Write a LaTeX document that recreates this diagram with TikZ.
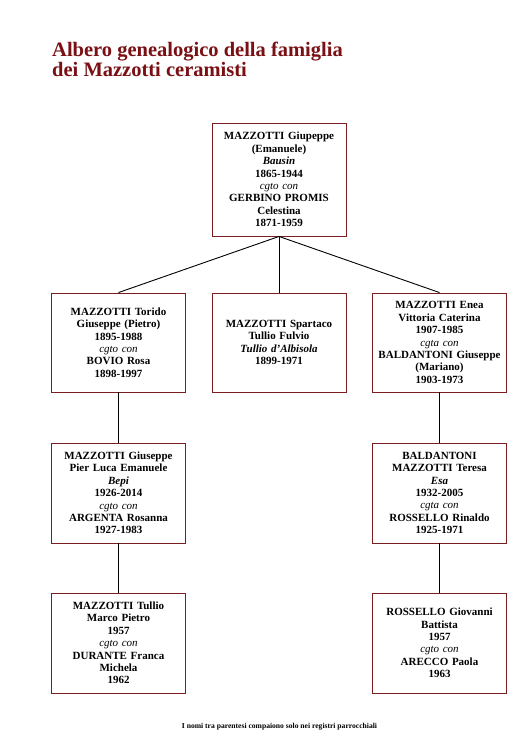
\documentclass[tikz,border=0pt]{standalone}
\usepackage{fontspec}
\setmainfont{Liberation Serif}
\definecolor{titlered}{HTML}{7A1014}
\definecolor{boxred}{HTML}{7A1E22}
\begin{document}
\begin{tikzpicture}[x=1pt,y=-1pt,
  person/.style={draw=boxred, line width=0.9pt, fill=white, inner sep=0pt,
    minimum width=134pt, text width=132pt, align=center,
    font=\fontsize{11}{12.4}\selectfont\bfseries},
  titletext/.style={anchor=base west, text=titlered, inner sep=0pt,
    font=\fontsize{20.5}{21}\selectfont\bfseries},
  link/.style={draw=black, line width=0.9pt}]
\useasboundingbox (0,0) rectangle (526,753);
\fill[white] (0,0) rectangle (526,753);
\node[titletext] (t1) at (52,56) {Albero genealogico della famiglia};
\node[titletext] (t2) at (52,76) {dei Mazzotti ceramisti};

\newcommand{\cgto}{{\mdseries\itshape cgto con}}
\newcommand{\cgta}{{\mdseries\itshape cgta con}}

\node[person, minimum height=113pt] (top) at (279,179.5) {MAZZOTTI Giupeppe\\(Emanuele)\\\textit{Bausin}\\1865-1944\\\cgto\\GERBINO PROMIS\\Celestina\\1871-1959};

\node[person, minimum height=99pt] (torido) at (118.5,342.5) {MAZZOTTI Torido\\Giuseppe (Pietro)\\1895-1988\\\cgto\\BOVIO Rosa\\1898-1997};
\node[person, minimum height=99pt] (spartaco) at (279,342.5) {MAZZOTTI Spartaco\\Tullio Fulvio\\\textit{Tullio d'Albisola}\\1899-1971};
\node[person, minimum height=99pt] (enea) at (439.5,342.5) {MAZZOTTI Enea\\Vittoria Caterina\\1907-1985\\\cgta\\BALDANTONI Giuseppe\\(Mariano)\\1903-1973};

\node[person, minimum height=100pt] (bepi) at (118.5,493) {MAZZOTTI Giuseppe\\Pier Luca Emanuele\\\textit{Bepi}\\1926-2014\\\cgto\\ARGENTA Rosanna\\1927-1983};
\node[person, minimum height=100pt] (teresa) at (439.5,493) {BALDANTONI\\MAZZOTTI Teresa\\\textit{Esa}\\1932-2005\\\cgta\\ROSSELLO Rinaldo\\1925-1971};

\node[person, minimum height=100pt] (tullio) at (118.5,643) {MAZZOTTI Tullio\\Marco Pietro\\1957\\\cgto\\DURANTE Franca\\Michela\\1962};
\node[person, minimum height=100pt] (giovanni) at (439.5,643) {ROSSELLO Giovanni\\Battista\\1957\\\cgto\\ARECCO Paola\\1963};

\draw[link] (top.south) -- (torido.north);
\draw[link] (top.south) -- (spartaco.north);
\draw[link] (top.south) -- (enea.north);
\draw[link] (torido.south) -- (bepi.north);
\draw[link] (bepi.south) -- (tullio.north);
\draw[link] (enea.south) -- (teresa.north);
\draw[link] (teresa.south) -- (giovanni.north);

\node[font=\fontsize{7.6}{8}\selectfont\bfseries, inner sep=0pt] (note) at (279.5,727) {I nomi tra parentesi compaiono solo nei registri parrocchiali};
\end{tikzpicture}
\end{document}
